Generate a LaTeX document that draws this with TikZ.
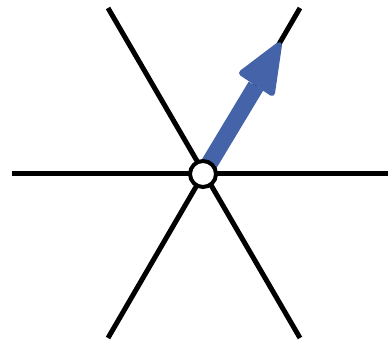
\documentclass[tikz,border=0pt]{standalone}
\usetikzlibrary{calc}
\definecolor{arrowblue}{HTML}{4563A9}
\begin{document}
\begin{tikzpicture}[x=0.75pt,y=-0.75pt,
  axisline/.style={line width=3.75pt,black},
  hub/.style={circle,draw=black,fill=white,line width=3pt,minimum size=19.5pt,inner sep=0pt},
  shaft/.style={line width=12.75pt,arrowblue},
  headfill/.style={fill=arrowblue,draw=arrowblue,line width=4.5pt,line join=round}]
\useasboundingbox (0,0) rectangle (388,345);
\coordinate (L) at (12,174);
\coordinate (R) at (388,174);
\coordinate (TL) at (108,8);
\coordinate (TR) at (300,8);
\coordinate (BL) at (108,338);
\coordinate (BR) at (300,338);
\coordinate (cc) at (203,174);
\draw[axisline] (L) -- (R);
\draw[axisline] (TL) -- (BR);
\draw[axisline] (TR) -- (BL);
\coordinate (base) at (256,86);
\coordinate (tip) at (279,45);
\coordinate (h1) at (242,73);
\coordinate (h2) at (272,93);
\draw[shaft] (cc) -- (base);
\filldraw[headfill] (tip) -- (h1) -- (h2) -- cycle;
\node[hub] (c) at (cc) {};
\end{tikzpicture}
\end{document}
